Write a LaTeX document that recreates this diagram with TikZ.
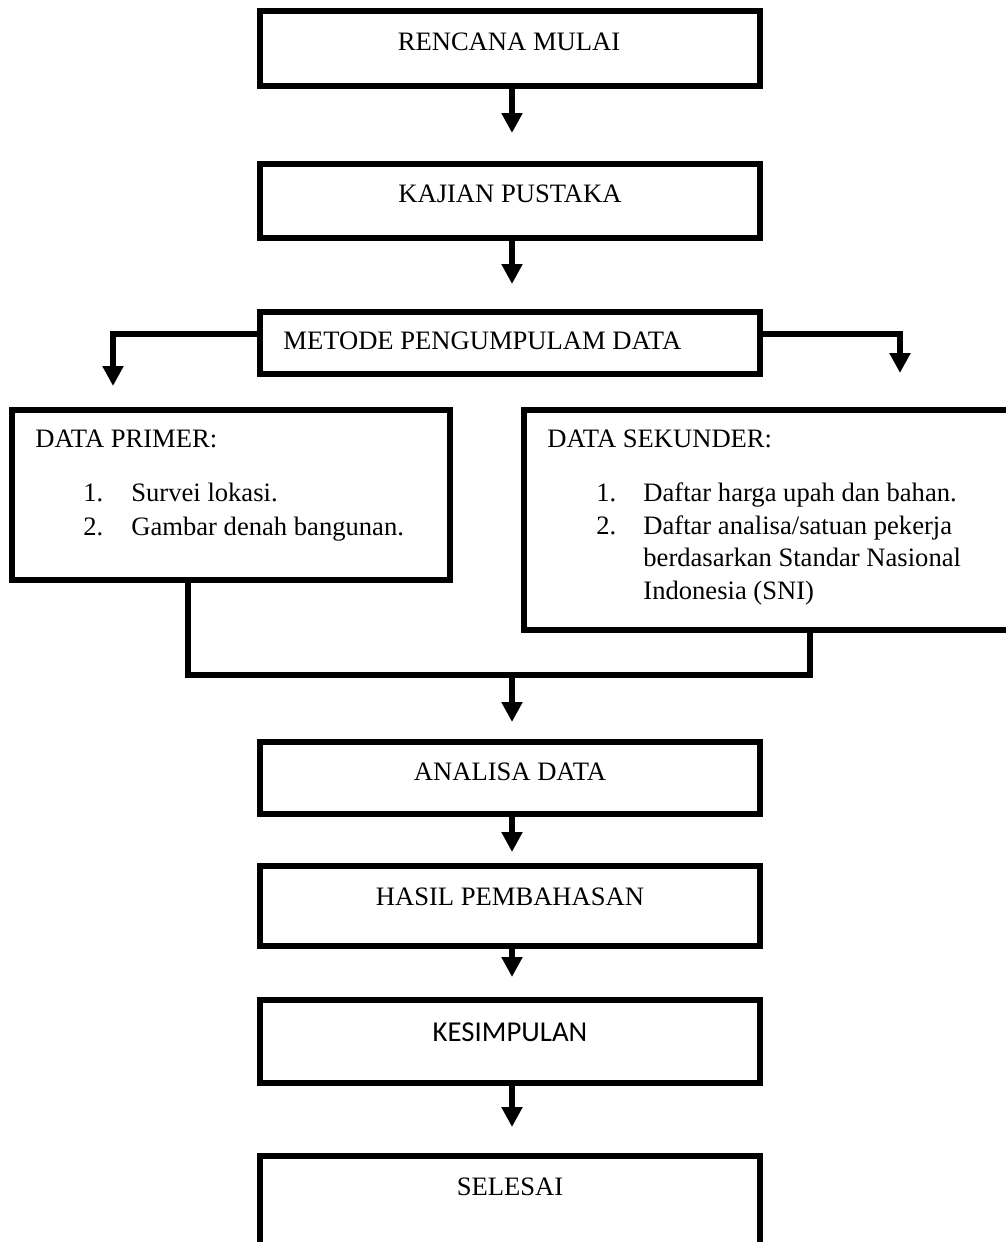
\documentclass[tikz,border=0pt]{standalone}
\usepackage{fontspec}
\setmainfont{Liberation Serif}
\newfontfamily\carl{Carlito}
\usetikzlibrary{arrows.meta}
\begin{document}
\begin{tikzpicture}[x=0.5pt,y=-0.5pt,
  box/.style={draw, line width=3pt, inner sep=0pt, outer sep=0pt, minimum width=250pt},
  txt/.style={anchor=base, inner sep=0pt, font=\fontsize{13.3pt}{16pt}\selectfont},
  txtl/.style={txt, anchor=base west},
  conn/.style={line width=3pt, line join=miter},
  arr/.style={conn, -{Triangle[width=10pt,length=10pt]}}]
\useasboundingbox (0,0) rectangle (1006,1242);

% boxes
\node[box, minimum height=37.5pt] (rm) at (510,48.5) {};
\node[box, minimum height=37pt] (kp) at (510,201) {};
\node[box, minimum height=31pt] (mp) at (510,343) {};
\node[box, minimum width=219pt, minimum height=85pt] (dp) at (231,495) {};
\node[box, minimum width=248pt, minimum height=110pt] (ds) at (772,520) {};
\node[box, minimum height=36pt] (ad) at (510,778) {};
\node[box, minimum height=40pt] (hp) at (510,906) {};
\node[box, minimum height=41.5pt] (ks) at (510,1041.5) {};
\node[box, minimum height=53pt] (sl) at (510,1209) {};

% texts
\node[txt] (trm) at (509,50) {RENCANA MULAI};
\node[txt] (tkp) at (510,202) {KAJIAN PUSTAKA};
\node[txtl] (tmp) at (283,349) {METODE PENGUMPULAM DATA};
\node[txtl] (tdp) at (35,447) {DATA PRIMER:};
\node[txtl] (dpn1) at (83,501) {1.};
\node[txtl] (dpi1) at (131,501) {Survei lokasi.};
\node[txtl] (dpn2) at (83,535) {2.};
\node[txtl] (dpi2) at (131,535) {Gambar denah bangunan.};
\node[txtl] (tds) at (547,447) {DATA SEKUNDER:};
\node[txtl] (dsn1) at (596,501) {1.};
\node[txtl] (dsi1) at (643,501) {Daftar harga upah dan bahan.};
\node[txtl] (dsn2) at (596,534) {2.};
\node[txtl] (dsi2) at (643,534) {Daftar analisa/satuan pekerja};
\node[txtl] (dsi3) at (643,566) {berdasarkan Standar Nasional};
\node[txtl] (dsi4) at (643,599) {Indonesia (SNI)};
\node[txt] (tad) at (510,780) {ANALISA DATA};
\node[txt] (thp) at (510,905) {HASIL PEMBAHASAN};
\node[txt, font=\carl\fontsize{14.4pt}{17pt}\selectfont] (tks) at (510,1041) {KESIMPULAN};
\node[txt] (tsl) at (510,1195) {SELESAI};

% coordinates
\coordinate (t1) at (512,133);
\coordinate (t2) at (512,284);
\coordinate (bl) at (113,334);
\coordinate (tl) at (113,386);
\coordinate (br) at (900,334);
\coordinate (tr) at (900,373);
\coordinate (j1) at (188,675);
\coordinate (j2) at (810,675);
\coordinate (m) at (512,675);
\coordinate (t3) at (512,722);
\coordinate (t4) at (512,852);
\coordinate (t5) at (512,977);
\coordinate (t6) at (512,1127);

% connectors
\draw[arr] (rm.south -| t1) -- (t1);
\draw[arr] (kp.south -| t2) -- (t2);
\draw[arr] (mp.west |- bl) -- (bl) -- (tl);
\draw[arr] (mp.east |- br) -- (br) -- (tr);
\draw[conn] (dp.south -| j1) -- (j1) -- (j2) -- (ds.south -| j2);
\draw[arr] (m) -- (t3);
\draw[arr] (ad.south -| t4) -- (t4);
\draw[arr] (hp.south -| t5) -- (t5);
\draw[arr] (ks.south -| t6) -- (t6);
\end{tikzpicture}
\end{document}
